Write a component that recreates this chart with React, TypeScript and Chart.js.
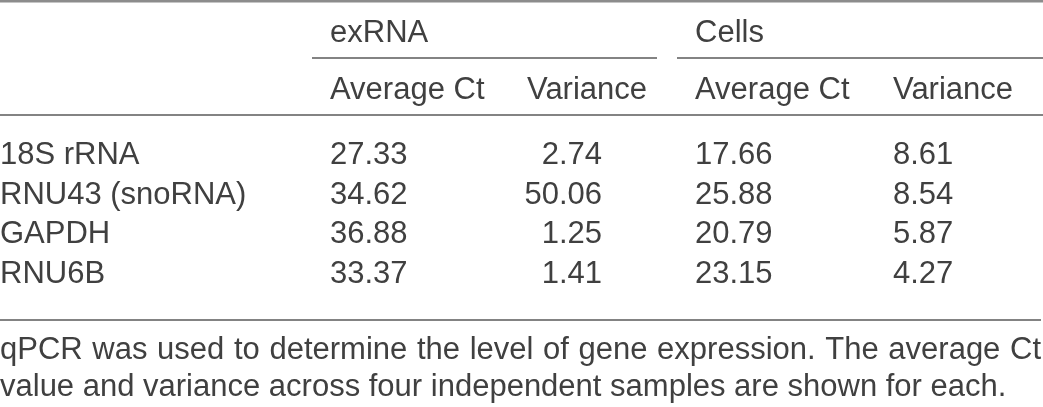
import React, { useEffect, useRef } from "react";
import { Chart, registerables } from "chart.js";

Chart.register(...registerables);

// ---- data ----
const groupLabels = ["exRNA", "Cells"];
const columnLabels = ["Average Ct", "Variance", "Average Ct", "Variance"];
const rowLabels = ["18S rRNA", "RNU43 (snoRNA)", "GAPDH", "RNU6B"];
const exrnaAvgCt = [27.33, 34.62, 36.88, 33.37];
const exrnaVariance = [2.74, 50.06, 1.25, 1.41];
const cellsAvgCt = [17.66, 25.88, 20.79, 23.15];
const cellsVariance = [8.61, 8.54, 5.87, 4.27];
const captionLines = [
  "qPCR was used to determine the level of gene expression. The average Ct",
  "value and variance across four independent samples are shown for each.",
];

// ---- layout (in scale units; x: 0..1043, y: 0..407 top-down) ----
const W = 1043;
const H = 407;
const FONT = '31px "Liberation Sans", Arial, Helvetica, sans-serif';
const TEXT = "#404040";
const RULE = "#5a5a5a";

const colX = { label: 0, exAvg: 330, exVarRight: 602, exVarHead: 527, cAvg: 695, cVar: 893 };
const groupLines = [
  { x0: 312, x1: 657 },
  { x0: 677, x1: 1043 },
];
const groupX = [330, 695];
const yGroupBase = 42;
const yGroupRule = 58;
const yHeadBase = 99;
const yHeadRule = 115;
const yRow0Base = 164;
const rowPitch = 39.5;
const yBottomRule = 320;
const yCap0Base = 359;
const capPitch = 37;

const tablePlugin = {
  id: "tablePlugin",
  afterDraw(chart: any) {
    const { ctx, scales } = chart;
    const px = (v: number) => scales.x.getPixelForValue(v);
    const py = (v: number) => scales.y.getPixelForValue(v);
    ctx.save();

    // top rule
    ctx.fillStyle = "#8c8c8c";
    ctx.fillRect(px(0), py(0), px(W) - px(0), 2.5);

    const hline = (x0: number, x1: number, y: number, w = 1.6) => {
      ctx.strokeStyle = RULE;
      ctx.lineWidth = w;
      ctx.beginPath();
      ctx.moveTo(px(x0), py(y));
      ctx.lineTo(px(x1), py(y));
      ctx.stroke();
    };
    groupLines.forEach((g) => hline(g.x0, g.x1, yGroupRule));
    hline(0, W, yHeadRule);
    hline(0, 1041, yBottomRule);

    ctx.font = FONT;
    ctx.fillStyle = TEXT;
    ctx.textBaseline = "alphabetic";

    // group headers
    ctx.textAlign = "left";
    groupLabels.forEach((g, i) => ctx.fillText(g, px(groupX[i]), py(yGroupBase)));

    // column headers
    const headX = [colX.exAvg, colX.exVarHead, colX.cAvg, colX.cVar];
    columnLabels.forEach((c, i) => ctx.fillText(c, px(headX[i]), py(yHeadBase)));

    // row labels
    rowLabels.forEach((lab, r) => {
      ctx.textAlign = "left";
      ctx.fillText(lab, px(colX.label), py(yRow0Base + r * rowPitch));
    });

    // values placed at dataset element positions
    const aligns = ["left", "right", "left", "left"];
    chart.data.datasets.forEach((ds: any, di: number) => {
      const meta = chart.getDatasetMeta(di);
      ctx.textAlign = aligns[di];
      meta.data.forEach((el: any, i: number) => {
        ctx.fillText(Number(ds.data[i].v).toFixed(2), el.x, el.y);
      });
    });

    // caption, first line justified
    ctx.textAlign = "left";
    captionLines.forEach((line, li) => {
      const y = py(yCap0Base + li * capPitch);
      if (li < captionLines.length - 1) {
        const words = line.split(" ");
        const wordsW = words.reduce((s, w) => s + ctx.measureText(w).width, 0);
        const gap = (px(1041) - px(0) - wordsW) / (words.length - 1);
        let x = px(0);
        words.forEach((w) => {
          ctx.fillText(w, x, y);
          x += ctx.measureText(w).width + gap;
        });
      } else {
        ctx.fillText(line, px(0), y);
      }
    });
    ctx.restore();
  },
};

export default function App() {
  const ref = useRef<HTMLCanvasElement | null>(null);
  useEffect(() => {
    document.body.style.margin = "0";
    document.body.style.background = "#ffffff";
    if (!ref.current) return;
    const rowIdx = rowLabels.map((_, i) => i);
    const mk = (label: string, x: number, vals: number[]) => ({
      label,
      data: rowIdx.map((i) => ({ x, y: yRow0Base + i * rowPitch, v: vals[i] })) as any,
      pointRadius: 0,
    });
    const chart = new Chart(ref.current, {
      type: "scatter",
      data: {
        datasets: [
          mk("exRNA Average Ct", colX.exAvg, exrnaAvgCt),
          mk("exRNA Variance", colX.exVarRight, exrnaVariance),
          mk("Cells Average Ct", colX.cAvg, cellsAvgCt),
          mk("Cells Variance", colX.cVar, cellsVariance),
        ],
      },
      options: {
        animation: false,
        responsive: false,
        devicePixelRatio: 1,
        layout: { padding: 0 },
        events: [],
        scales: {
          x: { type: "linear", min: 0, max: W, display: false },
          y: { type: "linear", min: 0, max: H, reverse: true, display: false },
        },
        plugins: { legend: { display: false }, tooltip: { enabled: false } },
      },
      plugins: [tablePlugin],
    });
    return () => chart.destroy();
  }, []);
  return (
    <div style={{ width: W, height: H, background: "#fff" }}>
      <canvas ref={ref} width={W} height={H} style={{ display: "block" }} />
    </div>
  );
}
